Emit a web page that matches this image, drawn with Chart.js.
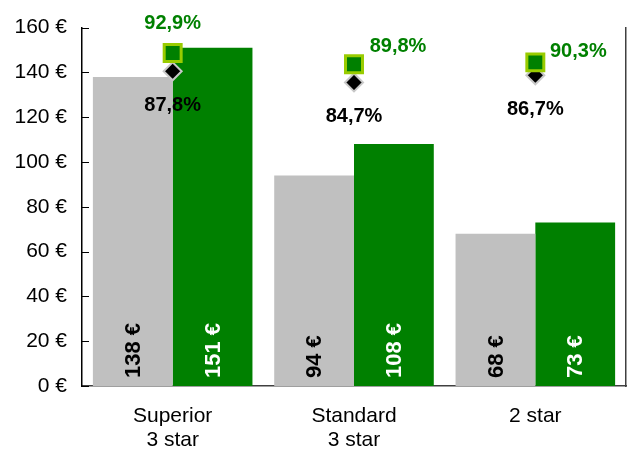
<!DOCTYPE html>
<html>
<head>
<meta charset="utf-8">
<script src="https://cdn.jsdelivr.net/npm/chart.js@4.4.1/dist/chart.umd.min.js"></script>
<style>
  html, body { margin: 0; padding: 0; background: #fff; overflow: hidden; }
  #wrap { width: 631px; height: 450px; }
</style>
</head>
<body>
<div id="wrap"><canvas id="chart"></canvas></div>
<script>
const categories = [["Superior", "3 star"], ["Standard", "3 star"], "2 star"];
const priceGrey = [138, 94, 68];
const priceGreen = [151, 108, 73];
const occGrey = [87.8, 84.7, 86.7];
const occGreen = [92.9, 89.8, 90.3];
const yTicks = [0, 20, 40, 60, 80, 100, 120, 140, 160];

const FONT = "Arial, 'Liberation Sans', sans-serif";
const GREY = "#C0C0C0";
const GREEN = "#008000";

const fmtPct = (v) => v.toFixed(1).replace(".", ",") + "%";

// where the percent labels sit relative to their marker
const greenOffsets = [[0, -30], [44, -18], [43, -11]];
const greyOffsets = [[0, 34], [0, 34], [0, 34]];

// the big markers would otherwise push the plot area in from the edges
Chart.registry.getController("line").prototype.getMaxOverflow = () => 0;

const labelPlugin = {
  id: "labels",
  afterDatasetsDraw(chart) {
    const { ctx } = chart;
    const yScale = chart.scales.y;
    const base = yScale.getPixelForValue(0);
    ctx.save();

    // rotated value labels inside the bars
    [0, 1].forEach((di) => {
      const meta = chart.getDatasetMeta(di);
      const vals = chart.data.datasets[di].data;
      meta.data.forEach((bar, i) => {
        ctx.save();
        ctx.translate(bar.x, base - 8);
        ctx.rotate(-Math.PI / 2);
        ctx.font = "bold 22px " + FONT;
        ctx.fillStyle = di === 0 ? "#000" : "#fff";
        ctx.textAlign = "left";
        ctx.textBaseline = "middle";
        ctx.fillText(vals[i] + " €", 0, 1);
        ctx.restore();
      });
    });

    // percent labels
    ctx.font = "bold 20px " + FONT;
    ctx.textAlign = "center";
    ctx.textBaseline = "middle";
    chart.getDatasetMeta(2).data.forEach((pt, i) => {
      ctx.fillStyle = "#000";
      ctx.fillText(fmtPct(occGrey[i]), pt.x + greyOffsets[i][0], pt.y + greyOffsets[i][1]);
    });
    chart.getDatasetMeta(3).data.forEach((pt, i) => {
      ctx.fillStyle = GREEN;
      ctx.fillText(fmtPct(occGreen[i]), pt.x + greenOffsets[i][0], pt.y + greenOffsets[i][1]);
    });
    ctx.restore();
  },
  afterDraw(chart) {
    // small inward tick marks on the left axis
    const { ctx } = chart;
    const y = chart.scales.y;
    ctx.save();
    ctx.strokeStyle = "#000";
    ctx.lineWidth = 1;
    yTicks.forEach((v) => {
      const py = Math.round(y.getPixelForValue(v)) + 0.5;
      ctx.beginPath();
      ctx.moveTo(y.right, py);
      ctx.lineTo(y.right + 7, py);
      ctx.stroke();
    });
    ctx.restore();
  },
};

new Chart(document.getElementById("chart"), {
  data: {
    labels: categories,
    datasets: [
      {
        type: "bar",
        label: "Price A",
        data: priceGrey,
        backgroundColor: GREY,
        yAxisID: "y",
        order: 3,
        barPercentage: 1,
        categoryPercentage: 0.88,
      },
      {
        type: "bar",
        label: "Price B",
        data: priceGreen,
        backgroundColor: GREEN,
        yAxisID: "y",
        order: 3,
        barPercentage: 1,
        categoryPercentage: 0.88,
      },
      {
        type: "line",
        label: "Occupancy A",
        data: occGrey,
        yAxisID: "y1",
        showLine: false,
        clip: false,
        pointStyle: "rectRot",
        pointRadius: 9,
        pointBackgroundColor: "#000",
        pointBorderColor: "#C8C8C8",
        pointBorderWidth: 2,
        order: 2,
      },
      {
        type: "line",
        label: "Occupancy B",
        data: occGreen,
        yAxisID: "y1",
        showLine: false,
        clip: false,
        pointStyle: "rect",
        pointRadius: 12,
        pointBackgroundColor: GREEN,
        pointBorderColor: "#99CC00",
        pointBorderWidth: 3,
        order: 1,
      },
    ],
  },
  options: {
    responsive: true,
    maintainAspectRatio: false,
    animation: false,
    layout: { padding: { top: 26, right: 5, left: 14, bottom: 0 } },
    plugins: {
      legend: { display: false },
      tooltip: { enabled: false },
    },
    scales: {
      x: {
        grid: { display: false, drawTicks: false },
        border: { display: true, color: "#404040", width: 1.5 },
        afterFit: (s) => {
          s.height = 64;
          s.paddingLeft = 0;
          s.paddingRight = 0;
        },
        ticks: {
          color: "#000",
          font: { family: FONT, size: 21, lineHeight: 1.15 },
          padding: 18,
          maxRotation: 0,
        },
      },
      y: {
        min: 0,
        max: 160,
        afterBuildTicks: (scale) => {
          scale.ticks = yTicks.map((v) => ({ value: v }));
        },
        afterFit: (s) => { s.width = 68; },
        grid: { display: false, drawTicks: false },
        border: { display: true, color: "#000", width: 1.5 },
        ticks: {
          color: "#000",
          font: { family: FONT, size: 21 },
          padding: 15,
          callback: (v) => v + " €",
        },
      },
      y1: {
        position: "right",
        min: 0,
        max: 100,
        afterFit: (s) => { s.width = 0; },
        grid: { display: false, drawTicks: false },
        border: { display: true, color: "#404040", width: 1.5 },
        ticks: { display: false },
      },
    },
  },
  plugins: [labelPlugin],
});
</script>
</body>
</html>
